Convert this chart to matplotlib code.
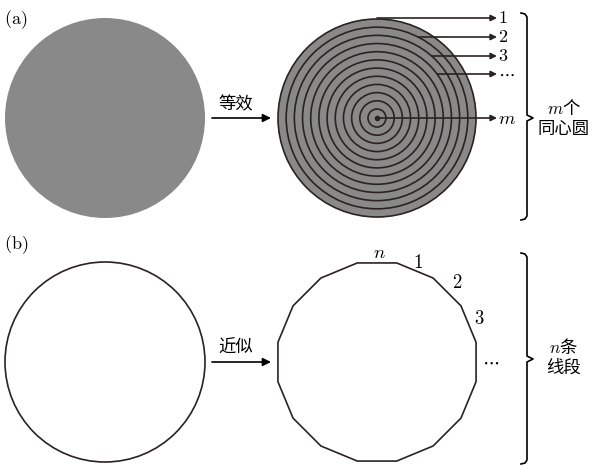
import numpy as np
import matplotlib.pyplot as plt
from matplotlib.patches import Circle, Polygon

plt.rcParams['font.family'] = ['Noto Sans CJK SC', 'DejaVu Sans']
plt.rcParams['mathtext.fontset'] = 'cm'

# dados do diagrama
n_aneis = 12                      # número de círculos concêntricos
raio_interno = 9
n_lados = 16                      # lados do polígono
rotulos_setas = ['1', '2', '3', r'\cdots']
rotulos_lados = ['n', '1', '2', '3', r'\cdots']

cinza = '#898989'
escuro = '#2b2222'

fig = plt.figure(figsize=(5.92, 4.68), dpi=100)
ax = fig.add_axes([0, 0, 1, 1])
ax.set_xlim(0, 592)
ax.set_ylim(468, 0)
ax.set_aspect('equal')
ax.axis('off')

R = 100
# (a) círculo cinza à esquerda
ax.add_patch(Circle((105, 118), R, facecolor=cinza, edgecolor='none'))
# círculos concêntricos à direita
cx, cy = 377, 118
raios = np.linspace(raio_interno, 99, n_aneis)
ax.add_patch(Circle((cx, cy), 99, facecolor=cinza, edgecolor='none'))
for r in raios:
    ax.add_patch(Circle((cx, cy), r, facecolor='none', edgecolor=escuro, lw=1.2))
ax.plot(cx, cy, 'o', color=escuro, ms=3)

seta = dict(arrowstyle='-|>', color=escuro, lw=1.2, mutation_scale=9, shrinkA=0, shrinkB=0)
ys_setas = [18, 37, 56, 74]
for i, (y, rot) in enumerate(zip(ys_setas, rotulos_setas)):
    r = raios[-1 - i]
    x0 = cx + np.sqrt(max(r**2 - (cy - y)**2, 0))
    ax.annotate('', xy=(497, y), xytext=(x0, y), arrowprops=seta)
    ax.text(498, y, '$' + rot + '$', fontsize=13, va='center', ha='left')
ax.annotate('', xy=(497, cy), xytext=(cx, cy), arrowprops=seta)
ax.text(498, cy, '$m$', fontsize=13.5, va='center', ha='left')

# seta "等效"
ax.annotate('', xy=(271, 118), xytext=(212, 118),
            arrowprops=dict(arrowstyle='-|>', color='black', lw=1.2, mutation_scale=12,
                            shrinkA=0, shrinkB=0))
ax.text(236, 104, '等效', fontsize=12.5, ha='center', va='center')

# (b) círculo branco e polígono
ax.add_patch(Circle((105, 362), R, facecolor='white', edgecolor=escuro, lw=1.2))
px, py, pr = 377, 362, 101
ang = np.deg2rad(90 + 360 / n_lados / 2 - np.arange(n_lados) * 360 / n_lados)
verts = np.column_stack([px + pr * np.cos(ang), py - pr * np.sin(ang)])
ax.add_patch(Polygon(verts, closed=True, facecolor='white', edgecolor=escuro, lw=1.2))

pos_lados = [(379, 252), (418, 263), (457, 282), (479, 319), (491, 361)]
for (x, y), rot in zip(pos_lados, rotulos_lados):
    ax.text(x, y, '$' + rot + '$', fontsize=13.5, ha='center', va='center')

ax.annotate('', xy=(271, 362), xytext=(212, 362),
            arrowprops=dict(arrowstyle='-|>', color='black', lw=1.2, mutation_scale=12,
                            shrinkA=0, shrinkB=0))
ax.text(236, 348, '近似', fontsize=12.5, ha='center', va='center')

# chaves
def chave(x, y0, y1, ym):
    xs = [x - 6, x - 2, x, x, x + 6, x, x, x - 2, x - 6]
    ys = [y0, y0 + 1, y0 + 4, ym - 3, ym, ym + 3, y1 - 4, y1 - 1, y1]
    ax.plot(xs, ys, color='black', lw=1.2)

chave(527, 13, 220, 118)
chave(527, 253, 464, 359)

ax.text(564, 118, '$m$个\n同心圆', fontsize=12.5, ha='center', va='center', linespacing=1.15)
ax.text(564, 357, '$n$条\n线段', fontsize=12.5, ha='center', va='center', linespacing=1.15)

ax.text(4, 20, r'$\mathrm{(a)}$', fontsize=13, ha='left', va='center')
ax.text(4, 245, r'$\mathrm{(b)}$', fontsize=13, ha='left', va='center')

fig.savefig('out.png', dpi=100)
